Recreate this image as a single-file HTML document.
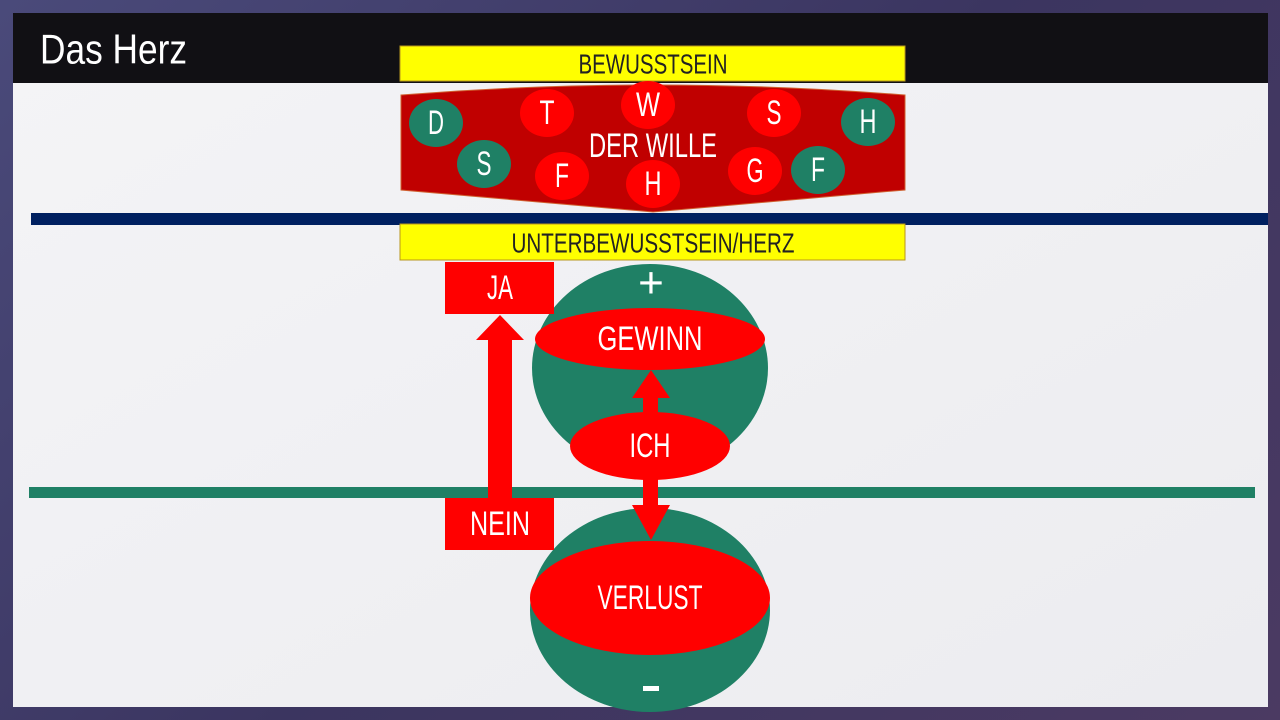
<!DOCTYPE html>
<html><head><meta charset="utf-8"><style>
body{margin:0;width:1280px;height:720px;overflow:hidden;background:linear-gradient(135deg,#4a4a7a,#3b3560 50%,#4b3a62);}
svg{position:absolute;left:0;top:0}
text{font-family:"Liberation Sans",sans-serif;fill:#fff;text-anchor:middle;dominant-baseline:central}
</style></head><body>
<svg width="1280" height="720" viewBox="0 0 1280 720">
<defs><linearGradient id="p" x1="0" y1="0" x2="1" y2="1"><stop offset="0" stop-color="#f4f4f6"/><stop offset="1" stop-color="#ececf0"/></linearGradient></defs>
<rect x="13" y="13" width="1255" height="694" fill="url(#p)"/>
<rect x="13" y="13" width="1255" height="70" fill="#111014"/>
<text x="40" y="49" textLength="147" lengthAdjust="spacingAndGlyphs" style="text-anchor:start;font-size:42px">Das Herz</text>
<rect x="31" y="213" width="1237" height="12" fill="#002060"/>
<rect x="29" y="487" width="1226" height="11" fill="#1f8065"/>
<rect x="400" y="46" width="505" height="35" fill="#ffff00" stroke="#b8961e"/>
<text x="653" y="64" textLength="149" lengthAdjust="spacingAndGlyphs" style="fill:#222;font-size:28px">BEWUSSTSEIN</text>
<rect x="400" y="224" width="505" height="36" fill="#ffff00" stroke="#b8961e"/>
<text x="653" y="243" textLength="283" lengthAdjust="spacingAndGlyphs" style="fill:#222;font-size:28px">UNTERBEWUSSTSEIN/HERZ</text>
<path d="M401 95 Q653 75 905 95 L905 190 L653 212 L401 190 Z" fill="#c00000" stroke="#d06030"/>
<g font-size="34">
<ellipse cx="436" cy="123" rx="27" ry="24" fill="#1f8065"/><text x="436" y="123" textLength="16" lengthAdjust="spacingAndGlyphs">D</text>
<ellipse cx="484" cy="164" rx="27" ry="24" fill="#1f8065"/><text x="484" y="164" textLength="15" lengthAdjust="spacingAndGlyphs">S</text>
<ellipse cx="547" cy="113" rx="27" ry="24" fill="#ff0000"/><text x="547" y="113" textLength="15" lengthAdjust="spacingAndGlyphs">T</text>
<ellipse cx="562" cy="176" rx="27" ry="24" fill="#ff0000"/><text x="562" y="176" textLength="14" lengthAdjust="spacingAndGlyphs">F</text>
<ellipse cx="648" cy="105" rx="27" ry="24" fill="#ff0000"/><text x="648" y="105" textLength="24" lengthAdjust="spacingAndGlyphs">W</text>
<ellipse cx="653" cy="184" rx="27" ry="24" fill="#ff0000"/><text x="653" y="184" textLength="17" lengthAdjust="spacingAndGlyphs">H</text>
<ellipse cx="774" cy="113" rx="27" ry="24" fill="#ff0000"/><text x="774" y="113" textLength="15" lengthAdjust="spacingAndGlyphs">S</text>
<ellipse cx="755" cy="171" rx="27" ry="24" fill="#ff0000"/><text x="755" y="171" textLength="17" lengthAdjust="spacingAndGlyphs">G</text>
<ellipse cx="818" cy="170" rx="27" ry="24" fill="#1f8065"/><text x="818" y="170" textLength="14" lengthAdjust="spacingAndGlyphs">F</text>
<ellipse cx="868" cy="122" rx="27" ry="24" fill="#1f8065"/><text x="868" y="122" textLength="17" lengthAdjust="spacingAndGlyphs">H</text>
</g>
<text x="653" y="146" font-size="34" textLength="128" lengthAdjust="spacingAndGlyphs">DER WILLE</text>
<ellipse cx="650" cy="368" rx="118" ry="104" fill="#1f8065"/>
<ellipse cx="650" cy="610" rx="120" ry="102" fill="#1f8065"/>
<rect x="445" y="262" width="109" height="52" fill="#ff0000"/>
<text x="500" y="288" font-size="34" textLength="26" lengthAdjust="spacingAndGlyphs">JA</text>
<rect x="445" y="498" width="109" height="52" fill="#ff0000"/>
<text x="500" y="524" font-size="34" textLength="60" lengthAdjust="spacingAndGlyphs">NEIN</text>
<path d="M488 498 L488 340 L476 340 L500 315 L524 340 L512 340 L512 498 Z" fill="#ff0000"/>
<ellipse cx="650" cy="339" rx="115" ry="31" fill="#ff0000"/>
<text x="650" y="339" font-size="34" textLength="105" lengthAdjust="spacingAndGlyphs">GEWINN</text>
<path d="M643 415 L643 398 L632 398 L651 370 L670 398 L658 398 L658 415 Z" fill="#ff0000"/>
<path d="M643 475 L643 505 L632 505 L651 540 L670 505 L658 505 L658 475 Z" fill="#ff0000"/>
<ellipse cx="650" cy="446" rx="80" ry="34" fill="#ff0000"/>
<text x="650" y="446" font-size="34" textLength="41" lengthAdjust="spacingAndGlyphs">ICH</text>
<ellipse cx="650" cy="598" rx="120" ry="57" fill="#ff0000"/>
<text x="650" y="598" font-size="34" textLength="105" lengthAdjust="spacingAndGlyphs">VERLUST</text>
<text x="651" y="283" font-size="44">+</text>
<rect x="643" y="686" width="16" height="5" fill="#fff"/>
</svg>
</body></html>
